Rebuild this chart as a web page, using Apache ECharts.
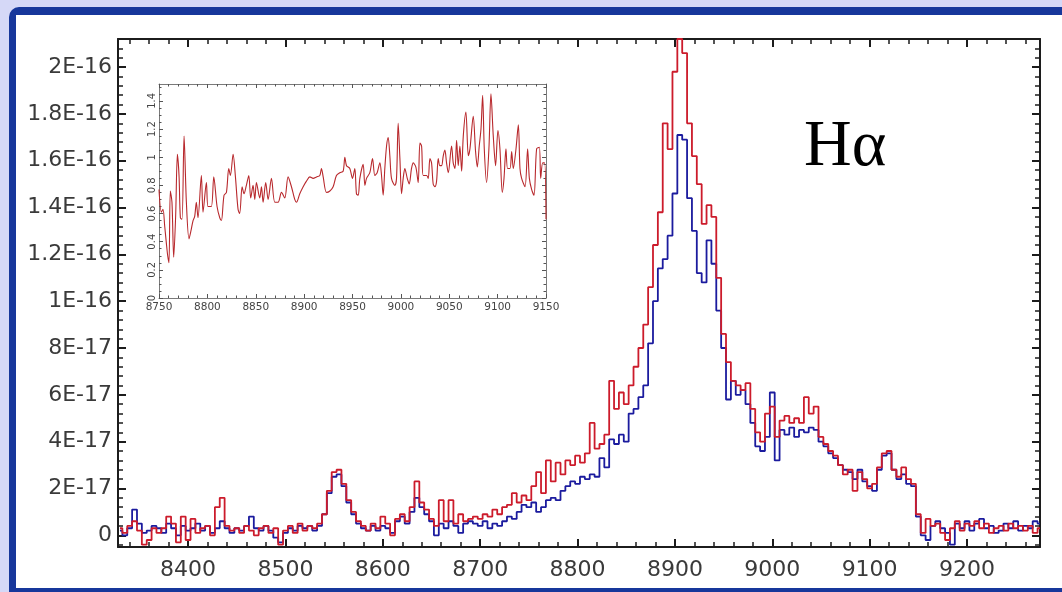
<!DOCTYPE html>
<html>
<head>
<meta charset="utf-8">
<title>Hα spectrum</title>
<script src="https://cdn.jsdelivr.net/npm/echarts@6/dist/echarts.min.js"></script>
<style>
  html, body { margin: 0; padding: 0; background: #d5d8f7; }
  #chart { width: 1062px; height: 592px; }
</style>
</head>
<body>
<div id="chart"></div>
<script>
// Wavelength sampling of the two spectra (Å)
const waveStart = 8330;
const waveStep = 5;

// Flux, in units of 1E-17, red spectrum (one row per 50 Å, starting at 8330)
const fluxRed = [
  0.3, 0.1, 0.4, 0.6, 0.2, -0.4, -0.2, 0.3, 0.1, 0.3,
  0.8, 0.5, -0.3, 0.8, -0.2, 0.7, 0.1, 0.3, 0.4, 0.0,
  1.2, 1.6, 0.4, 0.2, 0.3, 0.1, 0.4, 0.2, 0.0, 0.3,
  0.4, 0.1, 0.3, -0.4, 0.2, 0.4, 0.1, 0.5, 0.2, 0.4,
  0.3, 0.5, 0.9, 1.9, 2.7, 2.8, 2.2, 1.5, 1.0, 0.6,
  0.4, 0.2, 0.5, 0.3, 0.8, 0.5, 0.0, 0.7, 0.9, 0.6,
  1.2, 2.3, 1.4, 1.1, 0.7, 0.4, 1.5, 0.6, 1.5, 0.5,
  0.9, 0.6, 0.7, 0.8, 0.7, 0.9, 0.8, 1.1, 0.9, 1.2,
  1.3, 1.8, 1.4, 1.7, 1.5, 2.1, 2.7, 1.8, 3.2, 2.3,
  3.1, 2.6, 3.2, 3.0, 3.4, 3.1, 3.5, 4.8, 3.7, 3.9,
  4.3, 6.6, 5.4, 6.1, 5.6, 6.4, 7.2, 8.0, 9.0, 10.6,
  12.4, 13.8, 17.6, 16.5, 19.8, 21.2, 20.6, 17.6, 16.2, 15.0,
  13.3, 14.1, 13.6, 11.0, 8.6, 7.4, 6.6, 6.4, 6.2, 6.5,
  5.4, 4.4, 4.0, 5.2, 5.5, 4.2, 4.9, 5.1, 4.8, 5.0,
  4.8, 5.9, 5.2, 5.5, 4.2, 3.9, 3.6, 3.4, 3.0, 2.6,
  2.8, 1.9, 2.7, 2.4, 2.0, 2.2, 2.9, 3.5, 3.6, 2.8,
  2.5, 2.9, 2.4, 2.2, 0.9, 0.1, 0.7, 0.4, 0.5, 0.1,
  -0.2, 0.3, 0.6, 0.2, 0.5, 0.4, 0.6, 0.3, 0.5, 0.1,
  0.3, 0.4, 0.2, 0.5, 0.3, 0.4, 0.2, 0.4, 0.1, 0.3
];

// Flux, in units of 1E-17, blue spectrum (same sampling)
const fluxBlue = [
  0.2, 0.0, 0.3, 1.1, 0.5, 0.1, 0.2, 0.4, 0.3, 0.1,
  0.5, 0.3, 0.0, 0.4, 0.2, 0.3, 0.5, 0.2, 0.4, 0.1,
  0.3, 0.6, 0.3, 0.1, 0.3, 0.2, 0.4, 0.8, 0.3, 0.2,
  0.4, 0.2, -0.1, -0.3, 0.1, 0.3, 0.2, 0.4, 0.3, 0.4,
  0.2, 0.4, 0.9, 1.8, 2.5, 2.6, 2.1, 1.4, 0.9, 0.5,
  0.3, 0.2, 0.4, 0.2, 0.4, 0.3, 0.1, 0.6, 0.8, 0.5,
  1.0, 1.6, 1.2, 0.9, 0.6, 0.0, 0.5, 0.3, 0.6, 0.4,
  0.1, 0.5, 0.6, 0.5, 0.4, 0.6, 0.3, 0.5, 0.4, 0.6,
  0.8, 0.7, 1.0, 1.3, 1.2, 1.4, 1.0, 1.2, 1.5, 1.6,
  1.5, 1.9, 2.1, 2.3, 2.2, 2.5, 2.4, 2.6, 2.5, 3.3,
  2.9, 4.1, 3.9, 4.3, 4.0, 5.2, 5.4, 5.9, 6.4, 8.2,
  10.0, 11.4, 11.8, 12.8, 14.6, 17.1, 16.9, 14.4, 13.0, 11.2,
  10.8, 12.6, 11.6, 9.6, 8.0, 5.8, 6.6, 6.0, 6.2, 5.6,
  4.8, 3.8, 3.6, 4.2, 6.1, 3.2, 4.5, 4.3, 4.6, 4.2,
  4.5, 4.4, 4.6, 4.5, 4.0, 3.8, 3.5, 3.3, 3.0, 2.8,
  2.7, 2.4, 2.8, 2.3, 2.1, 1.9, 2.8, 3.4, 3.5, 2.8,
  2.4, 2.6, 2.2, 2.1, 0.8, 0.0, -0.2, 0.4, 0.6, 0.3,
  0.1, -0.4, 0.5, 0.3, 0.6, 0.2, 0.5, 0.7, 0.3, 0.4,
  0.1, 0.2, 0.5, 0.3, 0.6, 0.2, 0.4, 0.3, 0.6, 0.5
];

// Inset: flux ratio across the line
const insetWave = [
  8750.0, 8752.4, 8754.1, 8755.9, 8757.6, 8759.0, 8760.3, 8761.7, 8763.4, 8765.2,
  8767.2, 8769.0, 8770.7, 8772.1, 8773.8, 8775.9, 8778.3, 8781.0, 8783.4, 8785.2,
  8786.9, 8788.6, 8790.3, 8793.8, 8795.5, 8799.0, 8800.7, 8804.1, 8806.6, 8810.0,
  8812.8, 8814.5, 8817.2, 8819.7, 8822.1, 8823.8, 8826.6, 8829.0, 8831.7, 8833.4,
  8835.9, 8837.9, 8840.3, 8842.8, 8844.8, 8847.2, 8849.0, 8850.7, 8854.1, 8855.9,
  8857.6, 8860.3, 8862.8, 8866.2, 8869.7, 8873.1, 8876.6, 8880.0, 8883.4, 8886.9,
  8890.3, 8892.1, 8895.5, 8899.0, 8902.4, 8905.9, 8909.3, 8912.8, 8916.2, 8917.9,
  8919.7, 8923.1, 8926.6, 8930.0, 8933.4, 8936.9, 8940.3, 8942.1, 8943.8, 8947.2,
  8950.0, 8952.4, 8954.1, 8955.9, 8957.6, 8961.0, 8962.8, 8964.5, 8967.9, 8970.7,
  8973.1, 8975.5, 8978.3, 8980.0, 8981.7, 8983.4, 8985.2, 8986.9, 8988.6, 8990.3,
  8993.8, 8995.5, 8997.2, 8999.0, 9000.7, 9002.4, 9004.1, 9006.6, 9008.6, 9011.0,
  9012.8, 9015.5, 9017.9, 9019.7, 9021.4, 9023.1, 9026.6, 9028.3, 9030.0, 9031.7,
  9033.4, 9035.2, 9036.9, 9038.6, 9040.3, 9042.1, 9043.8, 9045.5, 9047.2, 9049.0,
  9052.4, 9054.1, 9055.9, 9057.6, 9059.3, 9061.0, 9062.8, 9064.5, 9067.2, 9069.7,
  9071.4, 9074.8, 9077.2, 9079.0, 9081.0, 9082.8, 9084.5, 9086.2, 9088.6, 9091.0,
  9093.1, 9095.5, 9097.9, 9100.3, 9102.4, 9104.8, 9106.6, 9108.6, 9110.3, 9112.8,
  9114.5, 9116.2, 9119.0, 9121.4, 9123.1, 9124.8, 9128.3, 9131.0, 9132.8, 9135.2,
  9137.6, 9140.3, 9143.1, 9144.5, 9146.6, 9148.6, 9150.0
];
const insetRatio = [
  0.77, 0.61, 0.63, 0.51, 0.39, 0.30, 0.25, 0.76, 0.68, 0.29,
  0.58, 1.02, 0.87, 0.57, 0.56, 1.15, 0.68, 0.42, 0.49, 0.55,
  0.58, 0.68, 0.57, 0.87, 0.61, 0.82, 0.65, 0.65, 0.86, 0.65,
  0.57, 0.55, 0.73, 0.75, 0.92, 0.87, 1.02, 0.86, 0.63, 0.60,
  0.79, 0.74, 0.80, 0.87, 0.71, 0.80, 0.70, 0.82, 0.71, 0.79,
  0.68, 0.82, 0.70, 0.85, 0.68, 0.68, 0.75, 0.71, 0.86, 0.79,
  0.70, 0.68, 0.74, 0.79, 0.83, 0.86, 0.85, 0.86, 0.87, 0.92,
  0.86, 0.75, 0.76, 0.79, 0.87, 0.89, 0.90, 1.00, 0.94, 0.92,
  0.85, 0.92, 0.74, 0.73, 0.85, 0.95, 0.80, 0.85, 0.89, 0.99,
  0.87, 0.89, 0.96, 0.87, 0.73, 0.92, 1.08, 1.14, 1.01, 0.85,
  0.80, 0.85, 1.24, 0.99, 0.74, 0.85, 0.92, 0.85, 0.81, 0.92,
  0.96, 0.93, 0.82, 1.10, 1.08, 0.87, 0.87, 0.85, 0.99, 0.96,
  0.81, 0.79, 0.83, 0.99, 0.94, 0.94, 1.01, 1.05, 0.96, 0.89,
  1.08, 0.96, 0.92, 1.12, 0.94, 1.08, 0.90, 1.15, 1.32, 1.01,
  1.06, 1.29, 1.04, 0.93, 1.08, 1.20, 1.44, 1.06, 0.82, 1.06,
  1.45, 1.15, 0.94, 1.19, 1.06, 0.75, 0.85, 1.06, 0.92, 0.92,
  1.04, 0.92, 1.06, 1.23, 0.92, 0.85, 0.79, 1.06, 0.85, 0.77,
  0.73, 1.06, 1.07, 0.85, 0.96, 0.96, 0.56
];

// Tick values and labels
const xTicks = [8400, 8500, 8600, 8700, 8800, 8900, 9000, 9100, 9200];
const xTickLabels = ['8400', '8500', '8600', '8700', '8800', '8900', '9000', '9100', '9200'];
const yTicks = [0, 2, 4, 6, 8, 10, 12, 14, 16, 18, 20];
const yTickLabels = ['0', '2E-17', '4E-17', '6E-17', '8E-17', '1E-16',
                     '1.2E-16', '1.4E-16', '1.6E-16', '1.8E-16', '2E-16'];
const insetXTicks = [8750, 8800, 8850, 8900, 8950, 9000, 9050, 9100, 9150];
const insetXTickLabels = ['8750', '8800', '8850', '8900', '8950', '9000', '9050', '9100', '9150'];
const insetYTicks = [0, 0.2, 0.4, 0.6, 0.8, 1, 1.2, 1.4];
const insetYTickLabels = ['0', '0.2', '0.4', '0.6', '0.8', '1', '1.2', '1.4'];

// Axis ranges
const X_MIN = 8328, X_MAX = 9275;
const Y_MIN = -0.5, Y_MAX = 21.2;
const IX_MIN = 8750, IX_MAX = 9150;
const IY_MIN = 0, IY_MAX = 1.52;

// Minor tick positions
const xMinor = [];
for (let w = 8340; w <= 9260; w += 20) xMinor.push(w);
const yMinor = [];
for (let k = -1; k * 0.4 <= Y_MAX; k++) yMinor.push(Math.round(k * 4) / 10);
const ixMinor = [];
for (let w = 8750; w <= 9150; w += 10) ixMinor.push(w);
const iyMinor = [];
for (let k = 0; k * 0.05 <= IY_MAX; k++) iyMinor.push(Math.round(k * 5) / 100);

const wave = fluxRed.map((_, i) => waveStart + i * waveStep);

const INK = '#1c1c1c';
const LABEL = '#3a3a3a';
const FONT = '"DejaVu Sans", sans-serif';

function lookup(ticks, labels) {
  return v => {
    const i = ticks.findIndex(t => Math.abs(t - v) < 1e-9);
    return i >= 0 ? labels[i] : '';
  };
}

function axisDef(grid, pos, min, max, ticks, len, width, color, label, line) {
  return {
    type: 'value', gridIndex: grid, position: pos, min: min, max: max,
    axisLine: { show: !!line, onZero: false, lineStyle: line || {} },
    axisTick: { show: true, inside: true, length: len, customValues: ticks,
                lineStyle: { color: color, width: width } },
    axisLabel: label ? label : { show: false },
    splitLine: { show: false }
  };
}

const mainLine = { color: INK, width: 2 };
const insetLine = { color: '#7a7a7a', width: 1 };

const xAxes = [
  axisDef(0, 'bottom', X_MIN, X_MAX, xTicks, 8, 2, INK, {
    show: true, customValues: xTicks, margin: 12,
    fontFamily: FONT, fontSize: 22, color: LABEL,
    formatter: lookup(xTicks, xTickLabels)
  }, mainLine),
  axisDef(0, 'bottom', X_MIN, X_MAX, xMinor, 5, 1.5, INK),
  axisDef(0, 'top', X_MIN, X_MAX, xTicks, 8, 2, INK, null, mainLine),
  axisDef(0, 'top', X_MIN, X_MAX, xMinor, 5, 1.5, INK),
  axisDef(1, 'bottom', IX_MIN, IX_MAX, insetXTicks, 4, 1, '#555', {
    show: true, customValues: insetXTicks, margin: 4,
    fontFamily: FONT, fontSize: 10.5, color: '#444',
    formatter: lookup(insetXTicks, insetXTickLabels)
  }, insetLine),
  axisDef(1, 'bottom', IX_MIN, IX_MAX, ixMinor, 2.5, 1, '#555'),
  axisDef(1, 'top', IX_MIN, IX_MAX, insetXTicks, 4, 1, '#555', null, insetLine),
  axisDef(1, 'top', IX_MIN, IX_MAX, ixMinor, 2.5, 1, '#555')
];

const yAxes = [
  axisDef(0, 'left', Y_MIN, Y_MAX, yTicks, 8, 2, INK, {
    show: true, customValues: yTicks, margin: 6,
    fontFamily: FONT, fontSize: 22, color: LABEL,
    formatter: lookup(yTicks, yTickLabels)
  }, mainLine),
  axisDef(0, 'left', Y_MIN, Y_MAX, yMinor, 5, 1.5, INK),
  axisDef(0, 'right', Y_MIN, Y_MAX, yTicks, 8, 2, INK, null, mainLine),
  axisDef(0, 'right', Y_MIN, Y_MAX, yMinor, 5, 1.5, INK),
  axisDef(1, 'left', IY_MIN, IY_MAX, insetYTicks, 4, 1, '#555', {
    show: true, customValues: insetYTicks, margin: 2, rotate: 90,
    fontFamily: FONT, fontSize: 10, color: '#444',
    formatter: lookup(insetYTicks, insetYTickLabels)
  }, insetLine),
  axisDef(1, 'left', IY_MIN, IY_MAX, iyMinor, 2.5, 1, '#555'),
  axisDef(1, 'right', IY_MIN, IY_MAX, insetYTicks, 4, 1, '#555', null, insetLine),
  axisDef(1, 'right', IY_MIN, IY_MAX, iyMinor, 2.5, 1, '#555')
];

const chart = echarts.init(document.getElementById('chart'), null, { renderer: 'canvas' });
chart.setOption({
  animation: false,
  backgroundColor: '#d5d8f7',
  graphic: [
    { type: 'rect', z: -10, shape: { x: 9, y: 7, width: 1100, height: 620, r: 10 },
      style: { fill: '#17379b' } },
    { type: 'rect', z: -9, shape: { x: 16, y: 15, width: 1100, height: 573 },
      style: { fill: '#ffffff' } },
    { type: 'text', z: 50, x: 804, y: 148,
      style: { text: 'Hα', font: '66px "Liberation Serif", serif', fill: '#000',
               verticalAlign: 'middle', align: 'left' } }
  ],
  grid: [
    { left: 118, top: 39, width: 922, height: 508, show: false },
    { left: 159, top: 84, width: 387, height: 214, show: true,
      backgroundColor: '#ffffff', borderWidth: 0 }
  ],
  xAxis: xAxes,
  yAxis: yAxes,
  series: [
    {
      name: 'blue', type: 'line', xAxisIndex: 0, yAxisIndex: 0,
      step: 'middle', symbol: 'none', clip: true,
      lineStyle: { color: '#1b1b9e', width: 1.8 },
      data: wave.map((w, i) => [w, fluxBlue[i]])
    },
    {
      name: 'red', type: 'line', xAxisIndex: 0, yAxisIndex: 0,
      step: 'middle', symbol: 'none', clip: true,
      lineStyle: { color: '#cc1b2b', width: 1.8 },
      data: wave.map((w, i) => [w, fluxRed[i]])
    },
    {
      name: 'ratio', type: 'line', xAxisIndex: 4, yAxisIndex: 4,
      symbol: 'none', clip: true, smooth: 0.3,
      lineStyle: { color: '#b8282c', width: 1.1 },
      data: insetWave.map((w, i) => [w, insetRatio[i]])
    }
  ]
});
</script>
</body>
</html>
